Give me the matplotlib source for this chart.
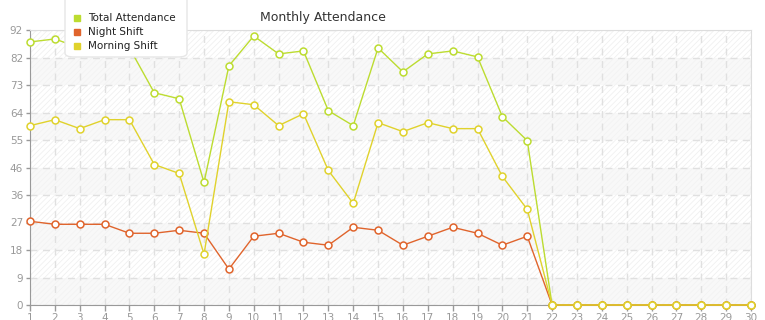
import matplotlib
matplotlib.use("Agg")
import matplotlib.pyplot as plt
from matplotlib.lines import Line2D
from matplotlib.patches import FancyBboxPatch
import numpy as np

days = list(range(1, 31))
total = [88, 89, 86, 89, 86, 71, 69, 41, 80, 90, 84, 85, 65, 60, 86, 78, 84, 85, 83, 63, 55,
         0, 0, 0, 0, 0, 0, 0, 0, 0]
night = [28, 27, 27, 27, 24, 24, 25, 24, 12, 23, 24, 21, 20, 26, 25, 20, 23, 26, 24, 20, 23,
         0, 0, 0, 0, 0, 0, 0, 0, 0]
morning = [60, 62, 59, 62, 62, 47, 44, 17, 68, 67, 60, 64, 45, 34, 61, 58, 61, 59, 59, 43, 32,
           0, 0, 0, 0, 0, 0, 0, 0, 0]
series_names = ["Total Attendance", "Night Shift", "Morning Shift"]
colors = ["#bcdc30", "#e0642c", "#e0d22c"]
y_max = 92
n_ticks = 10
title = "Monthly Attendance"

plt.rcParams['hatch.linewidth'] = 0.5
fig = plt.figure(figsize=(7.65, 3.2), dpi=100)
ax = fig.add_axes([30/765, 15/320, 721/765, 275/320])

step = y_max / n_ticks
yticks = [i * step for i in range(n_ticks + 1)]
for i in range(n_ticks):
    if i % 2 == 1:
        ax.axhspan(yticks[i], yticks[i+1], facecolor="white", edgecolor="#eeeeee",
                   hatch="//////", linewidth=0, zorder=0)
    else:
        ax.axhspan(yticks[i], yticks[i+1], facecolor="#f8f8f8", edgecolor="#f2f2f2",
                   hatch="//////", linewidth=0, zorder=0)

for vals, c in zip([total, night, morning], colors):
    ax.plot(days, vals, color=c, lw=1.0, marker="o", markersize=5,
            markerfacecolor="white", markeredgecolor=c, markeredgewidth=1.1, zorder=3,
            clip_on=False)

ax.set_xlim(1, 30)
ax.set_ylim(0, y_max)
ax.set_yticks(yticks)
ax.set_yticklabels([str(int(np.floor(t + 1e-9))) for t in yticks])
ax.set_xticks(days)
ax.set_xticklabels([str(d) for d in days])
ax.grid(True, color="#e0e0e0", linestyle=(0, (5, 4)), linewidth=1.0, zorder=1)
ax.set_axisbelow(True)
for s in ["top", "right"]:
    ax.spines[s].set_color("#dddddd")
for s in ["left", "bottom"]:
    ax.spines[s].set_color("#999999")
ax.tick_params(axis="both", colors="#999999", labelcolor="#999999", labelsize=7.5,
               length=4, width=1)
ax.tick_params(axis="x", pad=2)
ax.tick_params(axis="y", pad=2, length=3)

fig.text(260/765, 1 - 17/320, title, fontsize=9, color="#333333", ha="left", va="center")

# legend box
box = FancyBboxPatch((65/765, (320 - 57)/320), 122/765, 67/320, transform=fig.transFigure,
                     boxstyle="round,pad=0,rounding_size=0.012", facecolor="white",
                     edgecolor="#e6e6e6", linewidth=1, zorder=5)
fig.patches.append(box)
for i, (name, c) in enumerate(zip(series_names, colors)):
    yy = 1 - (18 + 14 * i) / 320
    fig.text(88/765, yy, name, fontsize=7.5, color="#222222", ha="left", va="center", zorder=6)
    fig.lines.append(Line2D([77/765], [yy], marker="s", markersize=4.5, color=c, linestyle="none",
                            transform=fig.transFigure, zorder=6))

fig.savefig("out.png", dpi=100)
